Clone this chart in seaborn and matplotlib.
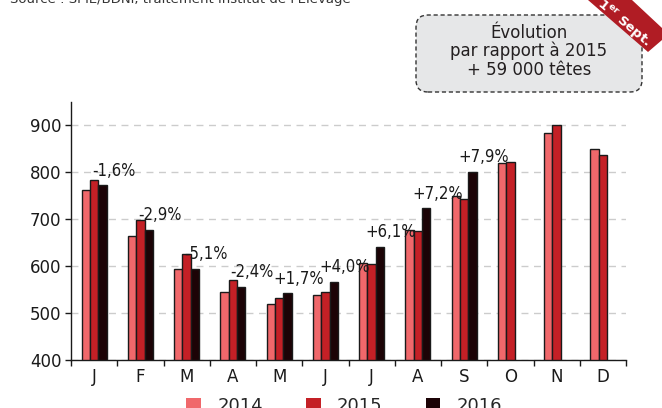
import matplotlib
matplotlib.use("Agg")
import matplotlib.pyplot as plt
import seaborn as sns
import pandas as pd
import numpy as np
from matplotlib.patches import FancyBboxPatch, Polygon, Patch
from matplotlib.transforms import IdentityTransform
from matplotlib.ticker import FixedLocator
from matplotlib import font_manager

# ---- data ----
month_keys = ["jan", "fev", "mar", "avr", "mai", "juin", "juil", "aou", "sep", "oct", "nov", "dec"]
month_labels = ["J", "F", "M", "A", "M", "J", "J", "A", "S", "O", "N", "D"]
years = ["2014", "2015", "2016"]
v2014 = [763, 664, 594, 544, 519, 539, 606, 678, 749, 821, 884, 850]
v2015 = [784, 698, 626, 570, 532, 544, 604, 675, 743, 823, 901, 836]
v2016 = [772, 678, 594, 556, 542, 567, 641, 723, 801, np.nan, np.nan, np.nan]
evol_labels = ["-1,6%", "-2,9%", "-5,1%", "-2,4%", "+1,7%", "+4,0%", "+6,1%", "+7,2%", "+7,9%", "", "", ""]
y_ticks = [400, 500, 600, 700, 800, 900]
colors = ["#f0686b", "#c42026", "#1c0306"]

rows = []
for i, m in enumerate(month_keys):
    for y, vals in zip(years, [v2014, v2015, v2016]):
        rows.append({"mois": m, "annee": y, "val": vals[i]})
df = pd.DataFrame(rows)

sns.set_theme(style="white")
plt.rcParams["font.family"] = ["DejaVu Sans"]

condensed = [f for f in font_manager.fontManager.ttflist
             if "Condensed" in f.fname or "Narrow" in f.name or "Narrow" in f.fname]
narrow_prop = None
for f in condensed:
    if "Bold" not in f.fname and "Oblique" not in f.fname and "Italic" not in f.fname:
        narrow_prop = font_manager.FontProperties(fname=f.fname, size=12)
        break
if narrow_prop is None:
    narrow_prop = font_manager.FontProperties(family="DejaVu Sans", stretch="condensed", size=11)

fig = plt.figure(figsize=(6.62, 4.08), dpi=100)
ax = fig.add_axes([71 / 662, 48 / 408, 555 / 662, 258 / 408])

sns.barplot(data=df, x="mois", y="val", hue="annee", order=month_keys, hue_order=years,
            palette=colors, saturation=1, width=0.54, edgecolor="#1a1a1a", linewidth=1.0,
            legend=False, ax=ax)

ax.set_ylim(400, 950)
ax.set_xlim(-0.5, 11.5)
ax.set_yticks(y_ticks)
ax.set_yticklabels([str(t) for t in y_ticks], fontsize=12, color="#1a1a1a")
ax.yaxis.grid(True, linestyle=(0, (5, 4)), color="#cccccc", linewidth=1.0)
ax.set_axisbelow(True)
ax.set_xlabel("")
ax.set_ylabel("")
ax.set_xticks(range(12))
ax.set_xticklabels(month_labels, fontsize=12, color="#1a1a1a")
ax.xaxis.set_minor_locator(FixedLocator(np.arange(-0.5, 12, 1.0)))
ax.tick_params(axis="x", which="major", length=0, pad=6)
ax.tick_params(axis="x", which="minor", length=4, width=1, color="#1a1a1a", direction="out", bottom=True)
ax.tick_params(axis="y", length=4, width=1, color="#1a1a1a", direction="out", left=True, pad=3)
for s in ["top", "right"]:
    ax.spines[s].set_visible(False)
for s in ["left", "bottom"]:
    ax.spines[s].set_color("#1a1a1a")
    ax.spines[s].set_linewidth(1.0)

# evolution labels above the 2016 bars
for bar, lab in zip(ax.containers[2], evol_labels):
    h = bar.get_height()
    if lab and np.isfinite(h):
        ax.annotate(lab, (bar.get_x() + bar.get_width() / 2, h), xytext=(8, 4),
                    textcoords="offset points", ha="center", va="bottom",
                    fontproperties=narrow_prop, color="#1a1a1a")

# legend
handles = [Patch(facecolor=c, edgecolor="none") for c in colors]
fig.legend(handles, years, loc="center", bbox_to_anchor=(0.52, 0.005), ncol=3, frameon=False,
           fontsize=13, handlelength=0.8, handleheight=0.8, handletextpad=0.9, columnspacing=2.4)

# source line (cut at top, as in the reference)
fig.text(10 / 662, 1 - 3 / 408, "Source : SPIE/BDNI, traitement Institut de l'Élevage",
         fontsize=9.5, color="#333333", va="baseline", ha="left")

# callout box
H = 408
box = FancyBboxPatch((416, H - 92), 226, 77, boxstyle="round,pad=0,rounding_size=12",
                     facecolor="#e6e7e8", edgecolor="#333333", linewidth=1.0, linestyle=(0, (3, 2)),
                     transform=IdentityTransform())
fig.add_artist(box)
for txt, yy in zip(["Évolution", "par rapport à 2015", "+ 59 000 têtes"], [33, 51, 70]):
    fig.text(529 / 662, 1 - yy / H, txt, ha="center", va="center", fontsize=12, color="#231f20")

# ribbon
rib = Polygon([(588, H - 0), (632, H - 0), (662, H - 28), (662, H - 40), (648, H - 52)], closed=True,
              facecolor="#b01c24", edgecolor="none", transform=IdentityTransform())
fig.add_artist(rib)
fig.text(624 / 662, 1 - 23 / H, r"1$^{\mathregular{er}}$ Sept.", ha="center", va="center",
         rotation=-40, fontsize=9.5, fontweight="bold", color="white", rotation_mode="anchor")

fig.savefig("out.png", dpi=100)
